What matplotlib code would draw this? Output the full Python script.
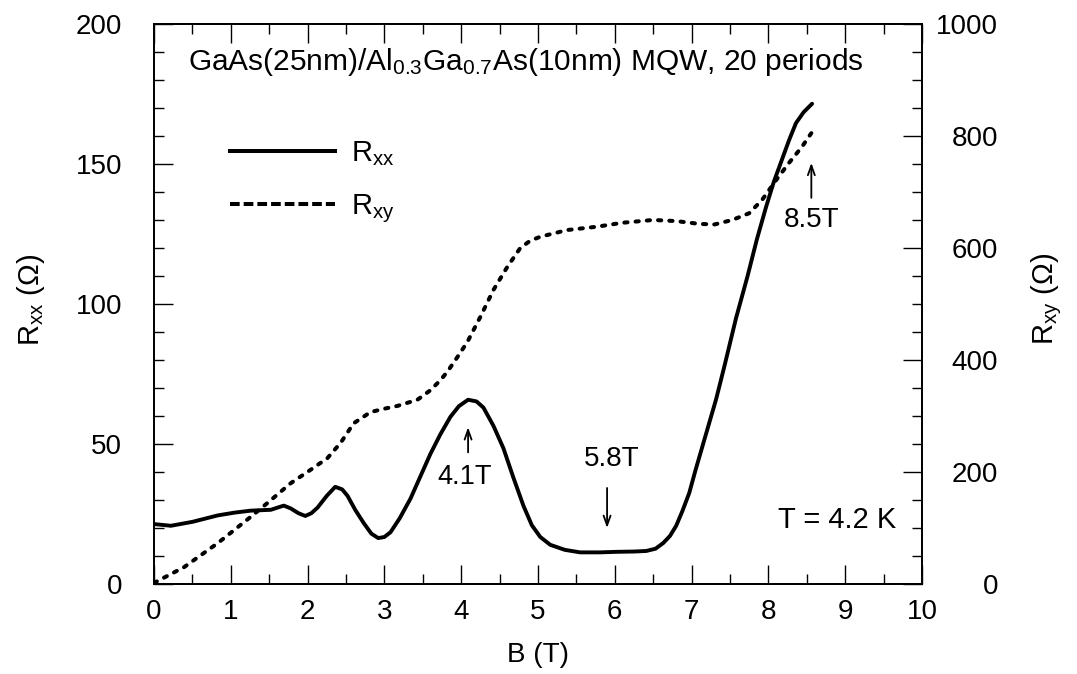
import numpy as np
import matplotlib.pyplot as plt
from matplotlib.lines import Line2D
from matplotlib.ticker import MultipleLocator

plt.rcParams['font.family'] = ['Liberation Sans', 'DejaVu Sans']
plt.rcParams['mathtext.fontset'] = 'custom'
plt.rcParams['mathtext.rm'] = 'Liberation Sans'
plt.rcParams['mathtext.it'] = 'Liberation Sans:italic'
plt.rcParams['mathtext.default'] = 'regular'

# Rxx (left axis, Ohm) vs B (T)
B_xx = [0, 0.22, 0.5, 0.83, 1.05, 1.26, 1.52, 1.69, 1.78, 1.88, 1.97, 2.05, 2.13,
        2.25, 2.36, 2.45, 2.52, 2.62, 2.73, 2.83, 2.92, 3.0, 3.08, 3.2, 3.34, 3.47,
        3.6, 3.73, 3.86, 3.97, 4.09, 4.2, 4.29, 4.42, 4.55, 4.68, 4.81, 4.92, 5.03,
        5.16, 5.35, 5.55, 5.8, 6.03, 6.25, 6.41, 6.53, 6.63, 6.72, 6.8, 6.88, 6.97,
        7.05, 7.14, 7.23, 7.32, 7.43, 7.58, 7.73, 7.85, 7.97, 8.07, 8.17, 8.27, 8.36,
        8.46, 8.57]
R_xx = [21.4, 20.8, 22.2, 24.5, 25.5, 26.2, 26.5, 28.0, 27.0, 25.3, 24.3, 25.3, 27.3,
        31.5, 34.7, 33.8, 31.5, 26.5, 21.8, 18.0, 16.4, 16.8, 18.5, 23.5, 30.5, 38.5,
        46.5, 53.5, 59.7, 63.5, 65.8, 65.2, 63.0, 56.5, 48.5, 38.0, 28.0, 21.0, 16.8,
        14.0, 12.2, 11.3, 11.3, 11.5, 11.6, 11.8, 12.6, 14.6, 17.2, 20.8, 26.0, 32.5,
        40.5, 49.0, 57.5, 66.0, 78.0, 95.0, 110.0, 123.0, 134.6, 143.5, 151.0, 158.5,
        164.6, 168.5, 171.5]

# Rxy (right axis, Ohm)
B_xy = [0, 0.39, 0.83, 1.26, 1.48, 1.78, 2.04, 2.26, 2.43, 2.6, 2.82, 3.0, 3.17, 3.43,
        3.6, 3.73, 3.82, 3.95, 4.08, 4.25, 4.42, 4.6, 4.77, 4.9, 5.03, 5.38, 5.77, 6.1,
        6.5, 6.8, 7.1, 7.3, 7.53, 7.75, 7.92, 8.1, 8.27, 8.44, 8.56]
R_xy = [2, 30, 73, 120, 145, 180, 204, 225, 252, 287, 307, 313, 318, 329,
        346, 364, 379, 405, 432, 477, 525, 566, 600, 613, 620, 632, 638, 645,
        650, 648, 643, 642, 650, 662, 686, 721, 752, 781, 805]

fig = plt.figure(figsize=(10.77, 6.74), dpi=100)
ax = fig.add_axes([0.143, 0.1335, 0.713, 0.831])
ax2 = ax.twinx()

ax.plot(B_xx, R_xx, color='black', lw=2.8, solid_capstyle='round', solid_joinstyle='round')
ax2.plot(B_xy, R_xy, color='black', lw=2.9, linestyle=(0, (0.8, 2.0)), dash_capstyle='round')

ax.set_xlim(0, 10)
ax.set_ylim(0, 200)
ax2.set_ylim(0, 1000)
ax.xaxis.set_major_locator(MultipleLocator(1))
ax.xaxis.set_minor_locator(MultipleLocator(0.5))
ax.yaxis.set_major_locator(MultipleLocator(50))
ax.yaxis.set_minor_locator(MultipleLocator(10))
ax2.yaxis.set_major_locator(MultipleLocator(200))
ax2.yaxis.set_minor_locator(MultipleLocator(50))

ax.tick_params(which='both', direction='in', top=True, right=False, width=1, labelsize=20)
ax.tick_params(axis='x', pad=11)
ax.tick_params(axis='y', pad=23)
ax.tick_params(which='major', length=13.5)
ax.tick_params(which='minor', length=7)
ax2.tick_params(which='both', direction='in', left=False, width=1, labelsize=20, pad=55)
ax2.tick_params(which='major', length=13.5)
ax2.tick_params(which='minor', length=7)
for lab in ax2.get_yticklabels():
    lab.set_ha('right')
for a in (ax, ax2):
    for s in a.spines.values():
        s.set_linewidth(1.3)

ax.set_xlabel('B (T)', fontsize=20, labelpad=12)
fig.text(31 / 1077, 1 - 300 / 674, 'R$_{xx}$ (Ω)', rotation=90, ha='center', va='center', fontsize=21)
fig.text(1047 / 1077, 1 - 299 / 674, 'R$_{xy}$ (Ω)', rotation=90, ha='center', va='center', fontsize=21)

ax.text(0.484, 0.918, 'GaAs(25nm)/Al$_{0.3}$Ga$_{0.7}$As(10nm) MQW, 20 periods',
        transform=ax.transAxes, ha='center', va='baseline', fontsize=21.5)

h1 = Line2D([], [], color='black', lw=2.9)
h2 = Line2D([], [], color='black', lw=2.9, linestyle=(0, (2.4, 1.0)))
ax2.legend([h1, h2], ['R$_{xx}$', 'R$_{xy}$'], loc='upper left', bbox_to_anchor=(0.099, 0.795),
           frameon=False, fontsize=21, handlelength=3.6, handletextpad=0.55,
           labelspacing=0.85, borderpad=0, borderaxespad=0)

arrow = dict(arrowstyle='->,head_length=0.7,head_width=0.25', lw=1.3, color='black',
             shrinkA=0, shrinkB=0)
ax.annotate('', xy=(4.09, 56), xytext=(4.09, 47), arrowprops=arrow)
ax.text(4.05, 38.2, '4.1T', ha='center', va='center', fontsize=19.5)
ax.annotate('', xy=(5.9, 20), xytext=(5.9, 34.3), arrowprops=arrow)
ax.text(5.96, 44.6, '5.8T', ha='center', va='center', fontsize=20)
ax.annotate('', xy=(8.56, 150.4), xytext=(8.56, 137.9), arrowprops=arrow)
ax.text(8.56, 130, '8.5T', ha='center', va='center', fontsize=20)
ax.text(9.66, 22.9, 'T = 4.2 K', ha='right', va='center', fontsize=21)

fig.savefig('out.png', dpi=100)
